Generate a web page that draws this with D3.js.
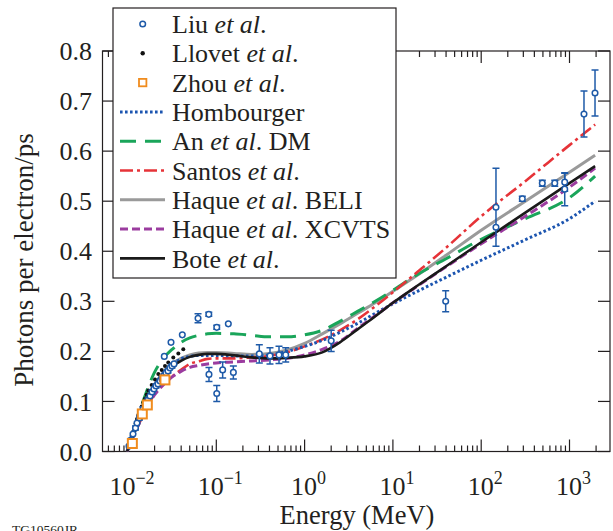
<!DOCTYPE html>
<html><head><meta charset="utf-8">
<script src="https://cdn.jsdelivr.net/npm/d3@7"></script>
<style>
body{margin:0;background:#fff}
svg{display:block}
</style>
</head><body>
<svg id="c" width="613" height="531" font-family="'Liberation Serif', 'Times New Roman', Times, 'DejaVu Serif', serif"></svg>
<script>
// ---------- DATA ----------
// Shared energy grid (MeV) for model curves
const energyGrid = [0.00977,0.01122,0.01259,0.01413,0.01585,0.01778,0.01995,0.02512,0.03162,0.03981,
  0.05012,0.0631,0.07943,0.1,0.1585,0.2512,0.3981,0.631,1,1.585,
  2.512,3.981,6.31,10,20,40,100,316,1000,1950];
const hombourger = [0,0.028,0.052,0.075,0.096,0.115,0.132,0.157,0.174,0.185,
  0.19,0.192,0.192,0.192,0.191,0.191,0.193,0.2,0.21,0.222,
  0.238,0.256,0.276,0.295,0.322,0.348,0.382,0.423,0.465,0.5];
const anDM = [0,0.035,0.062,0.09,0.115,0.138,0.158,0.186,0.204,0.218,
  0.227,0.232,0.235,0.236,0.235,0.232,0.229,0.229,0.233,0.242,
  0.26,0.28,0.3,0.322,0.356,0.385,0.424,0.465,0.507,0.55];
const santos = [0,0.025,0.045,0.065,0.084,0.1,0.114,0.137,0.15,0.163,
  0.175,0.18,0.185,0.186,0.186,0.188,0.191,0.198,0.21,0.224,
  0.242,0.264,0.29,0.318,0.362,0.407,0.47,0.54,0.612,0.653];
const haqueBELI = [0,0.03,0.055,0.078,0.1,0.118,0.134,0.158,0.175,0.186,
  0.193,0.197,0.198,0.198,0.196,0.194,0.196,0.203,0.216,0.235,
  0.255,0.276,0.297,0.32,0.355,0.392,0.442,0.5,0.558,0.592];
const haqueXCVTS = [0,0.025,0.046,0.066,0.085,0.1,0.113,0.133,0.149,0.16,
  0.168,0.172,0.175,0.177,0.179,0.181,0.183,0.186,0.193,0.204,
  0.22,0.246,0.271,0.297,0.333,0.369,0.415,0.47,0.528,0.566];
const bote = [0,0.027,0.05,0.072,0.093,0.112,0.128,0.152,0.17,0.181,
  0.189,0.193,0.195,0.195,0.192,0.188,0.186,0.187,0.19,0.198,
  0.218,0.244,0.27,0.297,0.334,0.37,0.418,0.477,0.536,0.57];

// Liu et al. measurements
const liuE = [0.01026,0.01081,0.01139,0.01216,0.01265,0.01349,0.01403,0.01478,0.01578,0.01684,
  0.01774,0.0187,0.01968,0.02074,0.02186,0.02304,0.02427,0.02557,0.02694,0.02838,
  0.0299,0.0315,0.03319,
  0.02576,0.03069,0.04121,0.0621,0.0822,0.1012,0.1368,
  0.0826,0.1012,0.118,0.156,
  0.307,0.4055,0.513,0.611,2.0,39.6,
  147,147,292,492,681,883,883,1459,1945];
const liuV = [0.011,0.023,0.035,0.047,0.057,0.067,0.077,0.085,0.093,0.103,
  0.111,0.119,0.125,0.131,0.135,0.141,0.145,0.151,0.157,0.161,
  0.167,0.171,0.175,
  0.19,0.218,0.233,0.266,0.274,0.248,0.255,
  0.154,0.116,0.163,0.158,
  0.195,0.191,0.193,0.193,0.221,0.3,
  0.488,0.448,0.505,0.536,0.536,0.538,0.524,0.674,0.716];
const liuErr = [0,0.003,0,0.004,0,0.004,0,0.004,0,0.004,
  0,0.004,0,0.004,0,0.004,0,0.004,0,0.004,
  0,0.004,0,
  0,0,0,0.009,0.004,0.004,0,
  0.014,0.016,0.016,0.013,
  0.018,0.016,0.017,0.014,0.021,0.021,
  0.078,0,0.005,0.006,0.006,0.018,0.033,0.046,0.046];

// Llovet et al.
const llovetE = [0.01054,0.01099,0.01148,0.01186,0.01222,0.01265,0.01309,0.01368,0.01429,0.01489,
  0.0156,0.01629,0.01698,0.01854,0.02023,0.02203,0.0241,0.02624,0.02858,0.03258,0.03715,0.04227];
const llovetV = [0.023,0.031,0.04,0.048,0.056,0.065,0.073,0.081,0.09,0.098,
  0.106,0.114,0.122,0.133,0.144,0.155,0.163,0.171,0.178,0.188,0.196,0.204];

// Zhou et al.
const zhouE = [0.0112,0.01452,0.01655,0.0262];
const zhouV = [0.016,0.075,0.093,0.143];

const yTicks = [0,0.1,0.2,0.3,0.4,0.5,0.6,0.7,0.8];
const yTickLabels = ["0.0","0.1","0.2","0.3","0.4","0.5","0.6","0.7","0.8"];
const xDecades = [0.01,0.1,1,10,100,1000];
const xTickExps = ["\u22122","\u22121","0","1","2","3"];

const legendLabels = ["Liu <i>et al</i>.","Llovet <i>et al</i>.","Zhou <i>et al</i>.","Hombourger",
  "An <i>et al</i>. DM","Santos <i>et al</i>.","Haque <i>et al</i>. BELI","Haque <i>et al</i>. XCVTS","Bote <i>et al</i>."];

// ---------- STYLES ----------
const TXT = "#231f20";
const COL = {liu:"#1e5aa8", llovet:"#111", zhou:"#f08c1e", hom:"#1c55b0", an:"#1aa55a",
  santos:"#e63338", beli:"#9a9a9a", xcvts:"#9b3c9f", bote:"#1a1a1a"};
const curves = [
  {v:haqueBELI, color:COL.beli, w:3, dash:null},
  {v:anDM, color:COL.an, w:3, dash:"16,9"},
  {v:santos, color:COL.santos, w:2.6, dash:"13,4,3,4"},
  {v:hombourger, color:COL.hom, w:3, dash:"2.6,2.4"},
  {v:haqueXCVTS, color:COL.xcvts, w:3, dash:"8,4"},
  {v:bote, color:COL.bote, w:2.6, dash:null}
];

// ---------- CHART ----------
const svg = d3.select("#c");
const L=102.5, R=610, T=51, B=451.5;
const x = d3.scaleLog().domain([0.005142, 2875]).range([L,R]);
const y = d3.scaleLinear().domain([0,0.8]).range([B,T]);

svg.append("clipPath").attr("id","clip").append("rect")
  .attr("x",L).attr("y",T).attr("width",R-L).attr("height",B-T);

// minor ticks
const minors = [];
for (let d=0.001; d<10000; d*=10) for (let k=2;k<=9;k++){ const v=+(d*k).toPrecision(3); if (v>x.domain()[0] && v<x.domain()[1]) minors.push(v); }

const axG = svg.append("g").attr("stroke",TXT).attr("stroke-width",1.2);
xDecades.forEach(v=>{
  axG.append("line").attr("x1",x(v)).attr("x2",x(v)).attr("y1",B).attr("y2",B-12);
  axG.append("line").attr("x1",x(v)).attr("x2",x(v)).attr("y1",T).attr("y2",T+12);
});
minors.forEach(v=>{
  axG.append("line").attr("x1",x(v)).attr("x2",x(v)).attr("y1",B).attr("y2",B-6);
  axG.append("line").attr("x1",x(v)).attr("x2",x(v)).attr("y1",T).attr("y2",T+6);
});
yTicks.forEach(v=>{
  axG.append("line").attr("x1",L).attr("x2",L+12).attr("y1",y(v)).attr("y2",y(v));
  axG.append("line").attr("x1",R).attr("x2",R-12).attr("y1",y(v)).attr("y2",y(v));
});
axG.append("rect").attr("x",L).attr("y",T).attr("width",R-L).attr("height",B-T).attr("fill","none");

// tick labels
yTicks.forEach((v,i)=>{
  svg.append("text").attr("x",92).attr("y",y(v)).attr("dy","0.35em").attr("text-anchor","end")
    .attr("font-size",26).attr("fill",TXT).text(yTickLabels[i]);
});
xDecades.forEach((v,i)=>{
  const t = svg.append("text").attr("x",x(v)+4).attr("y",495).attr("text-anchor","middle").attr("font-size",26).attr("fill",TXT);
  t.append("tspan").text("10");
  t.append("tspan").attr("dy",-11).attr("font-size",18).text(xTickExps[i]);
});

// axis titles
svg.append("text").attr("x",357).attr("y",524).attr("text-anchor","middle").attr("font-size",26.5).attr("fill",TXT).text("Energy (MeV)");
svg.append("text").attr("transform","translate(33,260) rotate(-90)").attr("text-anchor","middle")
  .attr("font-size",27).attr("fill",TXT).text("Photons per electron/ps");
svg.append("text").attr("x",12).attr("y",534).attr("font-size",13.5).attr("fill",TXT).text("TG10560JR");

// curves
const pg = svg.append("g").attr("clip-path","url(#clip)");
const line = d3.line().x(d=>x(d[0])).y(d=>y(d[1])).curve(d3.curveMonotoneX);
curves.forEach(c=>{
  pg.append("path").datum(energyGrid.map((e,i)=>[e,c.v[i]]))
    .attr("d",line).attr("fill","none").attr("stroke",c.color).attr("stroke-width",c.w)
    .attr("stroke-dasharray",c.dash);
});

// Llovet dots
pg.selectAll(".llo").data(llovetE.map((e,i)=>[e,llovetV[i]])).enter().append("circle")
  .attr("cx",d=>x(d[0])).attr("cy",d=>y(d[1])).attr("r",2).attr("fill",COL.llovet);

// Liu
const liu = liuE.map((e,i)=>({e, v:liuV[i], err:liuErr[i]}));
const lg = pg.append("g").attr("stroke",COL.liu).attr("stroke-width",1.5);
liu.filter(d=>d.err>0).forEach(d=>{
  const X=x(d.e);
  lg.append("line").attr("x1",X).attr("x2",X).attr("y1",y(d.v-d.err)).attr("y2",y(d.v+d.err));
  lg.append("line").attr("x1",X-3.5).attr("x2",X+3.5).attr("y1",y(d.v-d.err)).attr("y2",y(d.v-d.err));
  lg.append("line").attr("x1",X-3.5).attr("x2",X+3.5).attr("y1",y(d.v+d.err)).attr("y2",y(d.v+d.err));
});
lg.selectAll("circle").data(liu).enter().append("circle")
  .attr("cx",d=>x(d.e)).attr("cy",d=>y(d.v)).attr("r",2.8).attr("fill","#fff");

// Zhou
pg.selectAll(".zh").data(zhouE.map((e,i)=>[e,zhouV[i]])).enter().append("rect")
  .attr("x",d=>x(d[0])-4.5).attr("y",d=>y(d[1])-4.5).attr("width",9).attr("height",9)
  .attr("fill","#fff").attr("stroke",COL.zhou).attr("stroke-width",2);

// legend
const leg = svg.append("g");
leg.append("rect").attr("x",113).attr("y",8).attr("width",283).attr("height",270)
  .attr("fill","#fff").attr("stroke",TXT).attr("stroke-width",1.2);
const legStyles = [
  {type:"liu"},{type:"llovet"},{type:"zhou"},
  {type:"line", color:COL.hom, w:3, dash:"2.6,2.4"},
  {type:"line", color:COL.an, w:3, dash:"16,9"},
  {type:"line", color:COL.santos, w:2.6, dash:"13,4,3,4"},
  {type:"line", color:COL.beli, w:3, dash:null},
  {type:"line", color:COL.xcvts, w:3, dash:"8,4"},
  {type:"line", color:COL.bote, w:2.6, dash:null}
];
legendLabels.forEach((lab,i)=>{
  const cy = 24 + i*29.3;
  const s = legStyles[i];
  if (s.type==="liu") leg.append("circle").attr("cx",142.7).attr("cy",cy).attr("r",2.8).attr("fill","#fff").attr("stroke",COL.liu).attr("stroke-width",1.5);
  else if (s.type==="llovet") leg.append("circle").attr("cx",142.7).attr("cy",cy).attr("r",2.2).attr("fill",COL.llovet);
  else if (s.type==="zhou") leg.append("rect").attr("x",139).attr("y",cy-3.7).attr("width",7.4).attr("height",7.4).attr("fill","#fff").attr("stroke",COL.zhou).attr("stroke-width",1.8);
  else leg.append("line").attr("x1",120).attr("x2",165).attr("y1",cy).attr("y2",cy)
      .attr("stroke",s.color).attr("stroke-width",s.w).attr("stroke-dasharray",s.dash);
  const t = leg.append("text").attr("x",172).attr("y",cy).attr("dy","0.35em").attr("font-size",26).attr("fill",TXT);
  lab.split(/(<i>.*?<\/i>)/).filter(p=>p.length).forEach(p=>{
    if (p.startsWith("<i>")) t.append("tspan").attr("font-style","italic").text(p.slice(3,-4));
    else t.append("tspan").text(p);
  });
});
</script></body></html>
